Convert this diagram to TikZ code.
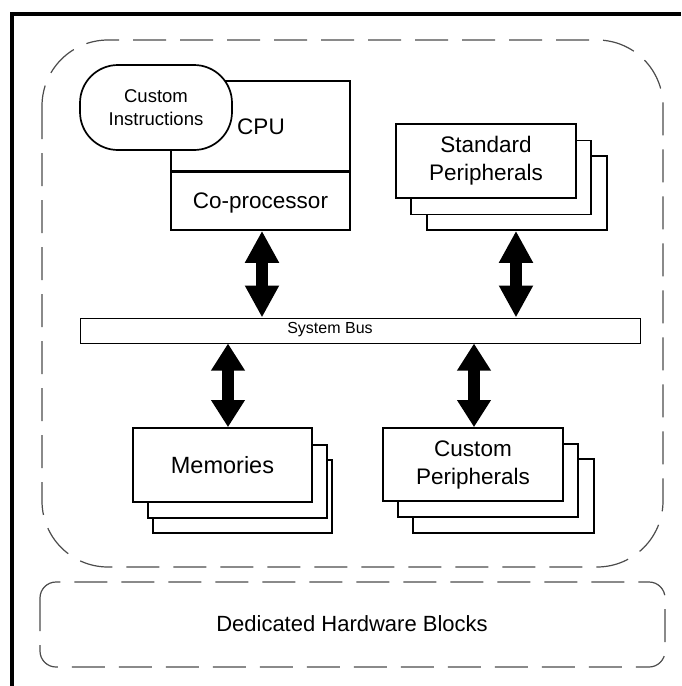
\documentclass[tikz,border=0pt]{standalone}
\usepackage{fontspec}
\setmainfont{Liberation Sans}
\usetikzlibrary{arrows.meta,calc}

\tikzset{
  blk/.style={draw=black, line width=1.7pt, fill=white, inner sep=0pt, align=center},
  dashframe/.style={draw=black!70, line width=1.2pt, dash pattern=on 33pt off 14pt},
  busarrow/.style={line width=12pt, {Triangle[width=32pt,length=32pt]}-{Triangle[width=32pt,length=32pt]}},
  shortarrow/.style={line width=12pt, {Triangle[width=32pt,length=27pt]}-{Triangle[width=32pt,length=27pt]}},
  lbl/.style={font=\fontsize{22.5}{28}\selectfont, align=center, inner sep=0pt},
}

\begin{document}
\begin{tikzpicture}[x=1pt, y=-1pt]
  \useasboundingbox (0,0) rectangle (681,686);

  % outer frame (top and left edges)
  \draw[line width=3.2pt] (12,686) -- (12,14) -- (681,14);

  % processor subsystem region and hardware blocks region
  \draw[dashframe, rounded corners=66pt] (42,40) rectangle (663,567);
  \draw[dashframe, rounded corners=16pt] (40,582) rectangle (665,667);
  \node[font=\fontsize{22}{26}\selectfont] (dhb) at (352,624) {Dedicated Hardware Blocks};

  % CPU with co-processor
  \node[blk, minimum width=179pt, minimum height=90pt] (cpu) at (260.5,126) {};
  \node[blk, minimum width=179pt, minimum height=59pt] (cop) at (260.5,200.5) {};
  \draw[line width=3pt] (cpu.south west) -- (cpu.south east);
  \node[lbl] (cputxt) at (261,127) {CPU};
  \node[lbl] (coptxt) at (260.5,203) {Co-processor};

  % custom instructions unit
  \node[blk, rounded corners=38pt, minimum width=152pt, minimum height=85pt,
        font=\fontsize{18.5}{23}\selectfont] (ci) at (156,107.5) {Custom\\Instructions};

  % standard peripherals stack
  \node[blk, minimum width=180pt, minimum height=74pt] (sp3) at (517,193) {};
  \node[blk, minimum width=180pt, minimum height=74pt] (sp2) at (501,177.5) {};
  \node[blk, minimum width=180pt, minimum height=74pt, font=\fontsize{22.5}{28}\selectfont] (sp1) at (486,161) {Standard\\Peripherals};

  % system bus
  \node[draw=black, line width=1pt, fill=white, minimum width=560pt, minimum height=25pt, inner sep=0pt] (bus) at (360,330.5) {};
  \node[font=\fontsize{16}{19}\selectfont, inner sep=0pt] (bustxt) at (330,330) {System Bus};

  % memories stack
  \node[blk, minimum width=179pt, minimum height=73pt] (mem3) at (242.5,496.5) {};
  \node[blk, minimum width=179pt, minimum height=73pt] (mem2) at (237.5,481.5) {};
  \node[blk, minimum width=179pt, minimum height=74pt, font=\fontsize{23.5}{28}\selectfont] (mem1) at (222.5,465) {Memories};

  % custom peripherals stack
  \node[blk, minimum width=181pt, minimum height=74pt] (cp3) at (503.5,496) {};
  \node[blk, minimum width=180pt, minimum height=73pt] (cp2) at (488,480.5) {};
  \node[blk, minimum width=180pt, minimum height=73pt, font=\fontsize{22.5}{28}\selectfont] (cp1) at (473,464.5) {Custom\\Peripherals};

  % bus connections
  \coordinate (copb) at ([xshift=1.5pt]cop.south);
  \coordinate (spb) at ([xshift=-1pt]sp3.south);
  \coordinate (memt) at ([xshift=5.5pt]mem1.north);
  \coordinate (cpt) at ([xshift=1pt]cp1.north);
  \draw[busarrow] (copb) -- (copb |- bus.north);
  \draw[busarrow] (spb) -- (spb |- bus.north);
  \draw[shortarrow] (memt |- bus.south) -- (memt);
  \draw[shortarrow] (cpt |- bus.south) -- (cpt);
\end{tikzpicture}
\end{document}
